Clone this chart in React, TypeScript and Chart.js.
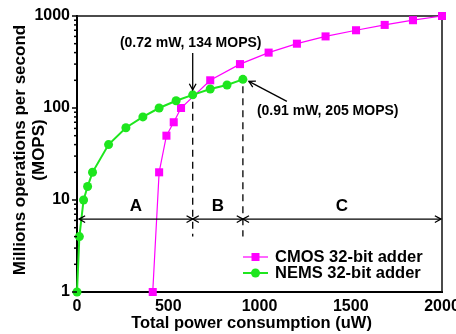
import React, { useEffect, useRef } from 'react';
import { Chart, registerables } from 'chart.js';

Chart.register(...registerables);

const nemsPower = [0, 13, 36, 58, 85, 173, 268, 361, 450, 543, 634, 730, 822, 909];
const nemsMops = [1, 4, 10, 14, 20, 40, 61, 80, 100, 120, 139, 161, 178, 205];
const cmosPower = [415, 450, 490, 530, 570, 730, 893, 1050, 1205, 1362, 1529, 1686, 1841, 2000];
const cmosMops = [1, 20, 50, 70, 100, 200, 300, 400, 500, 600, 700, 800, 900, 1000];

const xTicks = [0, 500, 1000, 1500, 2000];
const yMajorTicks = [1, 10, 100, 1000];

const regionBounds = [0, 634, 909, 2000];
const regionLabels = ['A', 'B', 'C'];
const regionArrowMops = 6.2;
const dashBottomMops = 4;

const seriesLabels = ['CMOS 32-bit adder', 'NEMS 32-bit adder'];
const crossLabel = '(0.72 mW, 134 MOPS)';
const peakLabel = '(0.91 mW, 205 MOPS)';
const crossIndex = 10;
const peakIndex = 13;
const xTitle = 'Total power consumption (uW)';
const yTitle = ['Millions operations per second', '(MOPS)'];

const GREEN = '#1ee61e';
const MAGENTA = '#ff00ff';
const FONT = '"Liberation Sans", Arial, sans-serif';

function arrowHead(ctx: CanvasRenderingContext2D, x: number, y: number, angle: number, len = 7) {
  ctx.beginPath();
  ctx.moveTo(x + len * Math.cos(angle + 0.5), y + len * Math.sin(angle + 0.5));
  ctx.lineTo(x, y);
  ctx.lineTo(x + len * Math.cos(angle - 0.5), y + len * Math.sin(angle - 0.5));
  ctx.stroke();
}

const framePlugin = {
  id: 'frame',
  beforeDatasetsDraw(chart: any) {
    const ctx: CanvasRenderingContext2D = chart.ctx;
    const xs = chart.scales.x;
    const ys = chart.scales.y;
    const ca = chart.chartArea;
    ctx.save();
    // top & right frame
    ctx.strokeStyle = '#111';
    ctx.lineWidth = 1.5;
    ctx.beginPath();
    ctx.moveTo(ca.left, ca.top);
    ctx.lineTo(ca.right, ca.top);
    ctx.lineTo(ca.right, ca.bottom);
    ctx.stroke();

    // dashed verticals
    const yDashB = ys.getPixelForValue(dashBottomMops);
    ctx.strokeStyle = '#000';
    ctx.lineWidth = 1.3;
    ctx.setLineDash([7, 5]);
    [crossIndex, peakIndex].forEach((i) => {
      const px = xs.getPixelForValue(nemsPower[i]);
      const py = ys.getPixelForValue(nemsMops[i]);
      ctx.beginPath();
      ctx.moveTo(px, py + 7);
      ctx.lineTo(px, yDashB);
      ctx.stroke();
    });
    ctx.setLineDash([]);
    ctx.restore();
  },
};

const overlayPlugin = {
  id: 'overlay',
  afterDraw(chart: any) {
    const ctx: CanvasRenderingContext2D = chart.ctx;
    const xs = chart.scales.x;
    const ys = chart.scales.y;
    const ca = chart.chartArea;
    ctx.save();

    // y ticks (major + minor) outward
    ctx.strokeStyle = '#000';
    ctx.lineWidth = 1.5;
    ys.ticks.forEach((t: any) => {
      const py = ys.getPixelForValue(t.value);
      const major = yMajorTicks.includes(t.value);
      const len = major ? 5 : 3;
      ctx.beginPath();
      ctx.moveTo(ca.left - len, py);
      ctx.lineTo(ca.left, py);
      ctx.stroke();
    });

    // region double arrows
    const ay = ys.getPixelForValue(regionArrowMops);
    ctx.lineWidth = 1.3;
    ctx.font = `bold 17px ${FONT}`;
    ctx.fillStyle = '#000';
    ctx.textAlign = 'center';
    ctx.textBaseline = 'middle';
    for (let i = 0; i < regionLabels.length; i++) {
      const x1 = xs.getPixelForValue(regionBounds[i]) + (i === 0 ? 2 : 0);
      const x2 = xs.getPixelForValue(regionBounds[i + 1]) - (i === regionLabels.length - 1 ? 1 : 0);
      ctx.beginPath();
      ctx.moveTo(x1, ay);
      ctx.lineTo(x2, ay);
      ctx.stroke();
      arrowHead(ctx, x1, ay, 0);
      arrowHead(ctx, x2, ay, Math.PI);
      ctx.fillText(regionLabels[i], (x1 + x2) / 2, ay - 13);
    }

    // cross point annotation
    const cx = xs.getPixelForValue(nemsPower[crossIndex]);
    const cy = ys.getPixelForValue(nemsMops[crossIndex]);
    ctx.font = `bold 14px ${FONT}`;
    ctx.textAlign = 'center';
    ctx.fillText(crossLabel, cx - 2, ca.top + 27);
    ctx.lineWidth = 1.3;
    ctx.beginPath();
    ctx.moveTo(cx, ca.top + 37);
    ctx.lineTo(cx, cy - 5);
    ctx.stroke();
    arrowHead(ctx, cx, cy - 5, -Math.PI / 2);

    // peak point annotation
    const px = xs.getPixelForValue(nemsPower[peakIndex]);
    const py = ys.getPixelForValue(nemsMops[peakIndex]);
    ctx.textAlign = 'left';
    ctx.fillText(peakLabel, px + 14, py + 32);
    const sx = px + 44, sy = py + 22;
    const ex = px + 6, ey = py + 2;
    ctx.beginPath();
    ctx.moveTo(sx, sy);
    ctx.lineTo(ex, ey);
    ctx.stroke();
    arrowHead(ctx, ex, ey, Math.atan2(sy - ey, sx - ex));

    // legend
    const lx = ca.right - 199;
    const entries = [
      { color: MAGENTA, style: 'rect', lw: 1.2, y: ca.bottom - 35 },
      { color: GREEN, style: 'circle', lw: 2, y: ca.bottom - 19 },
    ];
    ctx.font = `bold 16.5px ${FONT}`;
    ctx.textAlign = 'left';
    entries.forEach((e, i) => {
      ctx.strokeStyle = e.color;
      ctx.lineWidth = e.lw;
      ctx.beginPath();
      ctx.moveTo(lx, e.y);
      ctx.lineTo(lx + 25, e.y);
      ctx.stroke();
      ctx.fillStyle = e.color;
      if (e.style === 'rect') {
        ctx.fillRect(lx + 12.5 - 4, e.y - 4, 8, 8);
      } else {
        ctx.beginPath();
        ctx.arc(lx + 12.5, e.y, 4.5, 0, Math.PI * 2);
        ctx.fill();
      }
      ctx.fillStyle = '#000';
      ctx.fillText(seriesLabels[i], lx + 32, e.y);
    });

    // axis titles
    ctx.font = `bold 16.5px ${FONT}`;
    ctx.textAlign = 'center';
    ctx.textBaseline = 'middle';
    ctx.fillText(xTitle, (ca.left + ca.right) / 2 - 8, 323);
    ctx.save();
    ctx.translate(20, (ca.top + ca.bottom) / 2 - 4);
    ctx.rotate(-Math.PI / 2);
    ctx.font = `bold 17px ${FONT}`;
    ctx.fillText(yTitle[0], 0, 0);
    ctx.fillText(yTitle[1], 0, 19);
    ctx.restore();

    ctx.restore();
  },
};

export default function App() {
  const ref = useRef<HTMLCanvasElement | null>(null);
  useEffect(() => {
    if (!ref.current) return;
    const chart = new Chart(ref.current, {
      type: 'line',
      data: {
        datasets: [
          {
            label: seriesLabels[1],
            data: nemsPower.map((x, i) => ({ x, y: nemsMops[i] })),
            borderColor: GREEN,
            backgroundColor: GREEN,
            borderWidth: 2,
            pointStyle: 'circle',
            pointRadius: 4.5,
            pointBorderWidth: 0,
            tension: 0,
            clip: false,
          },
          {
            label: seriesLabels[0],
            data: cmosPower.map((x, i) => ({ x, y: cmosMops[i] })),
            borderColor: MAGENTA,
            backgroundColor: MAGENTA,
            borderWidth: 1.2,
            pointStyle: 'rect',
            pointRadius: 5.7,
            pointBorderWidth: 0,
            tension: 0,
            clip: false,
          },
        ],
      },
      options: {
        animation: false,
        responsive: false,
        events: [],
        layout: { padding: { top: 16, right: 14, left: 0, bottom: 0 } },
        plugins: { legend: { display: false }, tooltip: { enabled: false }, title: { display: false } },
        scales: {
          x: {
            type: 'linear',
            min: 0,
            max: 2000,
            grid: { display: false, drawTicks: false },
            border: { display: true, color: '#000', width: 2 },
            afterBuildTicks: (s: any) => {
              s.ticks = xTicks.map((v) => ({ value: v }));
            },
            afterFit: (s: any) => {
              s.height = 42;
              s.paddingLeft = 0;
              s.paddingRight = 0;
            },
            ticks: {
              color: '#000',
              font: { family: FONT, size: 16, weight: 'bold' },
              padding: 5,
              maxRotation: 0,
              autoSkip: false,
              callback: (v: any) => String(v),
            },
          },
          y: {
            type: 'logarithmic',
            min: 1,
            max: 1000,
            grid: { display: false, drawTicks: false },
            border: { display: true, color: '#000', width: 2 },
            afterBuildTicks: (s: any) => {
              const t: any[] = [];
              for (let k = 0; k < yMajorTicks.length - 1; k++) {
                for (let m = 1; m <= 9; m++) t.push({ value: yMajorTicks[k] * m });
              }
              t.push({ value: yMajorTicks[yMajorTicks.length - 1] });
              s.ticks = t;
            },
            afterFit: (s: any) => {
              s.width = 77;
              s.paddingTop = 0;
              s.paddingBottom = 0;
            },
            ticks: {
              color: '#000',
              font: { family: FONT, size: 16, weight: 'bold' },
              padding: 7,
              autoSkip: false,
              callback: (v: any) => (yMajorTicks.includes(Number(v)) ? String(v) : ''),
            },
          },
        },
      },
      plugins: [framePlugin, overlayPlugin],
    });
    return () => chart.destroy();
  }, []);
  return (
    <div style={{ position: 'absolute', left: 0, top: 0, width: 456, height: 334, background: '#fff' }}>
      <canvas ref={ref} width={456} height={334} />
    </div>
  );
}
